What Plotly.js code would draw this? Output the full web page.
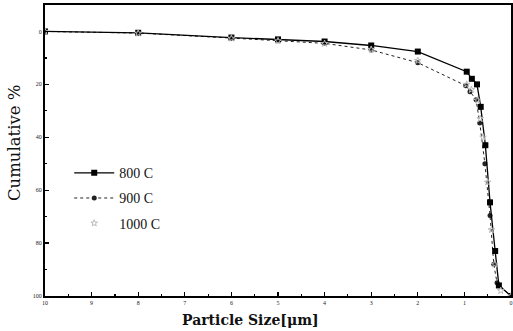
<!DOCTYPE html>
<html>
<head>
<meta charset="utf-8">
<script src="https://cdn.plot.ly/plotly-3.0.1.min.js"></script>
<style>html,body{margin:0;padding:0;background:#fff;}#chart{width:513px;height:331px;}</style>
</head>
<body>
<div id="chart"></div>
<script>
const size800 = [10, 8, 6, 5, 4, 3, 2, 0.95, 0.84, 0.73, 0.65, 0.55, 0.45, 0.34, 0.26, 0];
const cum800  = [0, 0.5, 2.3, 3.0, 3.8, 5.3, 7.6, 15.2, 17.9, 20.0, 28.5, 43.0, 64.6, 83.0, 96.0, 100];
const size900 = [10, 8, 6, 5, 4, 3, 2, 0.97, 0.88, 0.75, 0.67, 0.56, 0.45, 0.37, 0.3, 0];
const cum900  = [0, 0.6, 2.5, 3.5, 4.5, 7.0, 11.8, 20.5, 22.8, 25.8, 34.6, 50.0, 69.6, 88.0, 95.0, 100];
const size1000 = [10, 8, 6, 5, 4, 3, 2, 0.95, 0.85, 0.72, 0.66, 0.6, 0.5, 0.42, 0.35, 0.22, 0];
const cum1000  = [0, 0.7, 2.6, 3.6, 4.6, 6.8, 11.0, 20.0, 22.0, 26.0, 33.0, 40.0, 57.0, 75.0, 88.0, 98.0, 100];
const seriesNames = ['800 C', '900 C', '1000 C'];
const xTicks = [10, 9, 8, 7, 6, 5, 4, 3, 2, 1, 0];
const yTicks = [0, 20, 40, 60, 80, 100];
const xTitle = 'Particle Size[μm]';
const yTitle = 'Cumulative %';

const legFont = {family: 'Liberation Serif, Times New Roman, serif', size: 14, color: '#111'};

const traces = [
  {x: size900, y: cum900, name: seriesNames[1], mode: 'lines+markers', legendrank: 2, legendgroup: 'b',
   line: {color: '#222', width: 1, dash: 'dot'},
   marker: {symbol: 'circle', size: 5, color: '#222'}},
  {x: size800, y: cum800, name: seriesNames[0], mode: 'lines+markers', legendrank: 1, legendgroup: 'a',
   line: {color: '#000', width: 1.3},
   marker: {symbol: 'square', size: 6, color: '#000'}},
  {x: size1000, y: cum1000, name: seriesNames[2], mode: 'markers', legendrank: 3, legendgroup: 'c',
   marker: {symbol: 'star-open', size: 5, color: '#bbb', line: {width: 1, color: '#bbb'}}}
];

const layout = {
  width: 513, height: 331,
  margin: {l: 45, r: 2, t: 5, b: 35},
  paper_bgcolor: '#fff', plot_bgcolor: '#fff',
  showlegend: true,
  legend: {x: 0.052, y: 0.477, xanchor: 'left', yanchor: 'top', font: legFont,
           bgcolor: 'rgba(0,0,0,0)', traceorder: 'grouped', tracegroupgap: 4, itemwidth: 40},
  xaxis: {
    range: [10, 0], tickvals: xTicks, ticktext: xTicks.map(String),
    ticks: 'inside', ticklen: 4, tickwidth: 1.2, tickcolor: '#000',
    minor: {dtick: 0.5, ticks: 'inside', ticklen: 2, tickcolor: '#000'},
    showline: true, linecolor: '#000', linewidth: 2, mirror: true,
    showgrid: false, zeroline: false,
    tickfont: {family: 'Liberation Serif, serif', size: 6, color: '#222'}
  },
  yaxis: {
    range: [100, -10], tickvals: yTicks, ticktext: yTicks.map(String),
    ticks: 'inside', ticklen: 4, tickwidth: 1.2, tickcolor: '#000',
    minor: {dtick: 10, ticks: 'inside', ticklen: 2, tickcolor: '#000'},
    showline: true, linecolor: '#000', linewidth: 2, mirror: true,
    showgrid: false, zeroline: false,
    tickfont: {family: 'Liberation Serif, serif', size: 6, color: '#222'}
  },
  annotations: [
    {text: xTitle, xref: 'paper', yref: 'paper', x: 0.44, y: -0.0825, xanchor: 'center', yanchor: 'middle',
     showarrow: false, font: {family: 'DejaVu Serif, serif', size: 14, color: '#111', weight: 'bold'}},
    {text: yTitle, xref: 'paper', yref: 'paper', x: -0.064, y: 0.526, xanchor: 'center', yanchor: 'middle',
     textangle: -90, showarrow: false, font: {family: 'DejaVu Serif, serif', size: 16.5, color: '#111'}}
  ]
};

Plotly.newPlot('chart', traces, layout, {displayModeBar: false, staticPlot: true});
</script>
</body>
</html>
